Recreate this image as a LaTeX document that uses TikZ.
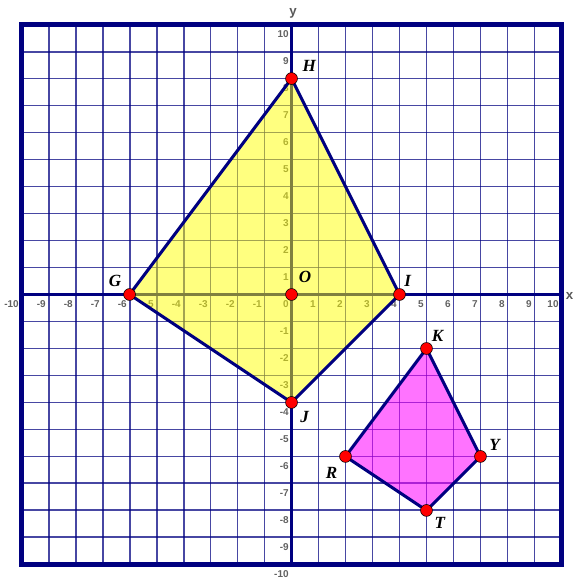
\documentclass[tikz,border=0pt]{standalone}
\usepackage{fontspec}
\setmainfont{Liberation Serif}
\newfontfamily\ticksf{Liberation Sans}
\usepackage{xcolor}
\usepackage{tikz}
\usetikzlibrary{positioning, calc}
\definecolor{gridnavy}{RGB}{0,0,128}
\definecolor{kiteyellow}{RGB}{255,255,0}
\definecolor{kitepink}{RGB}{255,0,255}

\begin{document}
\begin{tikzpicture}[
    gridline/.style={draw=gridnavy, line width=2pt, opacity=0.72},
    axisline/.style={draw=gridnavy, line width=4pt},
    edge/.style={draw=gridnavy, line width=3.2pt, line join=round},
    tick/.style={font=\ticksf\bfseries\fontsize{10.5}{10.5}\selectfont, text=black!62, anchor=east, inner sep=0pt},
    axisname/.style={font=\ticksf\bfseries\fontsize{14}{14}\selectfont, text=black!65, inner sep=0pt},
    pt/.style={circle, fill=red, draw=black, line width=0.6pt, minimum size=0.44cm, inner sep=0pt},
    lbl/.style={font=\fontsize{18}{18}\selectfont\bfseries\itshape, inner sep=0pt},
  ]
  \useasboundingbox (-10.8,-10.54) rectangle (10.54,10.91);

  % grid
  \foreach \k in {-9,...,9} {
    \draw[gridline] (\k,-10) -- (\k,10);
    \draw[gridline] (-10,\k) -- (10,\k);
  }
  \draw[gridnavy, line width=4.8pt, line join=miter] (-10,-10) rectangle (10,10);

  % axes
  \draw[axisline] (-10,0) -- (10,0);
  \draw[axisline] (0,-10) -- (0,10);
  \node[axisname] (xname) at (10.3,-0.05) {x};
  \node[axisname] (yname) at (0.06,10.42) {y};

  % tick numbers
  \foreach \k in {-10,...,-1,1,2,...,10} {
    \node[tick] (xt\k) at (\k-0.1,-0.35) {\k};
    \node[tick] (yt\k) at (-0.1,\k-0.35) {\k};
  }
  \node[tick] (zero) at (-0.1,-0.35) {0};

  % vertices
  \coordinate (G) at (-6,0);
  \coordinate (H) at (0,8);
  \coordinate (I) at (4,0);
  \coordinate (J) at (0,-4);
  \coordinate (O) at (0,0);
  \coordinate (K) at (5,-2);
  \coordinate (Y) at (7,-6);
  \coordinate (T) at (5,-8);
  \coordinate (R) at (2,-6);

  % kites
  \fill[kiteyellow, opacity=0.5] (G) -- (H) -- (I) -- (J) -- cycle;
  \fill[kitepink, opacity=0.55] (K) -- (Y) -- (T) -- (R) -- cycle;
  \draw[edge] (G) -- (H) -- (I) -- (J) -- cycle;
  \draw[edge] (K) -- (Y) -- (T) -- (R) -- cycle;

  % points
  \foreach \p in {G,H,I,J,O,K,Y,T,R}
    \node[pt] (\p dot) at (\p) {};

  % letters
  \node[lbl, above right=0.09cm and 0.24cm of Hdot] (Hlab) {H};
  \node[lbl, above left=0.11cm and 0.14cm of Gdot] (Glab) {G};
  \node[lbl, above right=0.11cm and 0.01cm of Idot] (Ilab) {I};
  \node[lbl, above right=0.28cm and 0.1cm of Odot] (Olab) {O};
  \node[lbl, below right=0.14cm and 0.16cm of Jdot] (Jlab) {J};
  \node[lbl, above right=0.1cm and 0.03cm of Kdot] (Klab) {K};
  \node[lbl, above right=0.04cm and 0.16cm of Ydot] (Ylab) {Y};
  \node[lbl, below left=0.25cm and 0.14cm of Rdot] (Rlab) {R};
  \node[lbl, below right=0.09cm and 0.13cm of Tdot] (Tlab) {T};

\end{tikzpicture}
\end{document}
